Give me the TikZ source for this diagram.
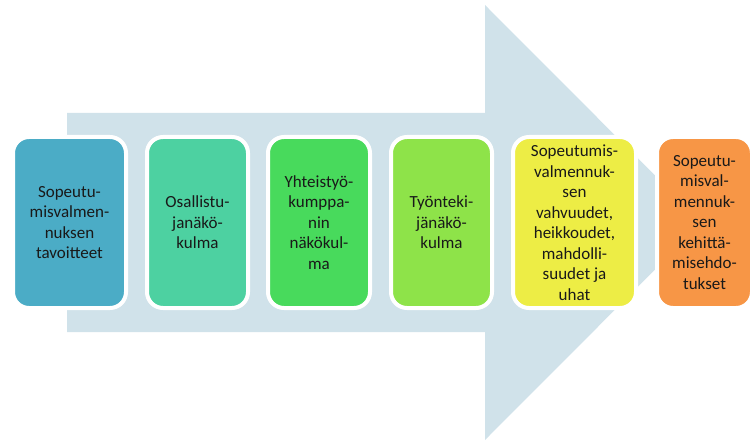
\documentclass[tikz,border=0pt]{standalone}
\usepackage{fontspec}
\setmainfont{Carlito}
\definecolor{arrowbg}{HTML}{D0E2EA}
\definecolor{cA}{HTML}{4BACC6}
\definecolor{cB}{HTML}{4DD1A1}
\definecolor{cC}{HTML}{48DA5C}
\definecolor{cD}{HTML}{8EE349}
\definecolor{cE}{HTML}{EDED45}
\definecolor{cF}{HTML}{F79646}
\tikzset{
  stagebox/.style={draw=white, line width=4pt, rounded corners=16pt,
    minimum height=171pt, align=center, inner sep=0pt,
    font=\fontsize{17}{20.5}\selectfont, text=black!90},
}
\begin{document}
\begin{tikzpicture}[x=1pt,y=-1pt]
\useasboundingbox (0,0) rectangle (752,441);
% background arrow
\fill[arrowbg] (67,113) -- (485,113) -- (485,5) -- (702,222.5) -- (485,440)
  -- (485,332) -- (67,332) -- cycle;
% stages
\node[stagebox, fill=cA, minimum width=113pt] (s1) at (69.5,222.5)
  {Sopeutu-\\misvalmen-\\nuksen\\tavoitteet};
\node[stagebox, fill=cB, minimum width=101pt] (s2) at (197.5,222.5)
  {Osallistu-\\janäkö-\\kulma};
\node[stagebox, fill=cC, minimum width=102pt] (s3) at (319,222.5)
  {Yhteistyö-\\kumppa-\\nin\\näkökul-\\ma};
\node[stagebox, fill=cD, minimum width=101pt] (s4) at (441.5,222.5)
  {Työnteki-\\jänäkö-\\kulma};
\node[stagebox, fill=cE, minimum width=123pt] (s5) at (574.5,222.5)
  {Sopeutumis-\\valmennuk-\\sen\\vahvuudet,\\heikkoudet,\\mahdolli-\\suudet ja\\uhat};
\node[stagebox, fill=cF, minimum width=95pt] (s6) at (704.5,222.5)
  {Sopeutu-\\misval-\\mennuk-\\sen\\kehittä-\\misehdo-\\tukset};
\end{tikzpicture}
\end{document}
